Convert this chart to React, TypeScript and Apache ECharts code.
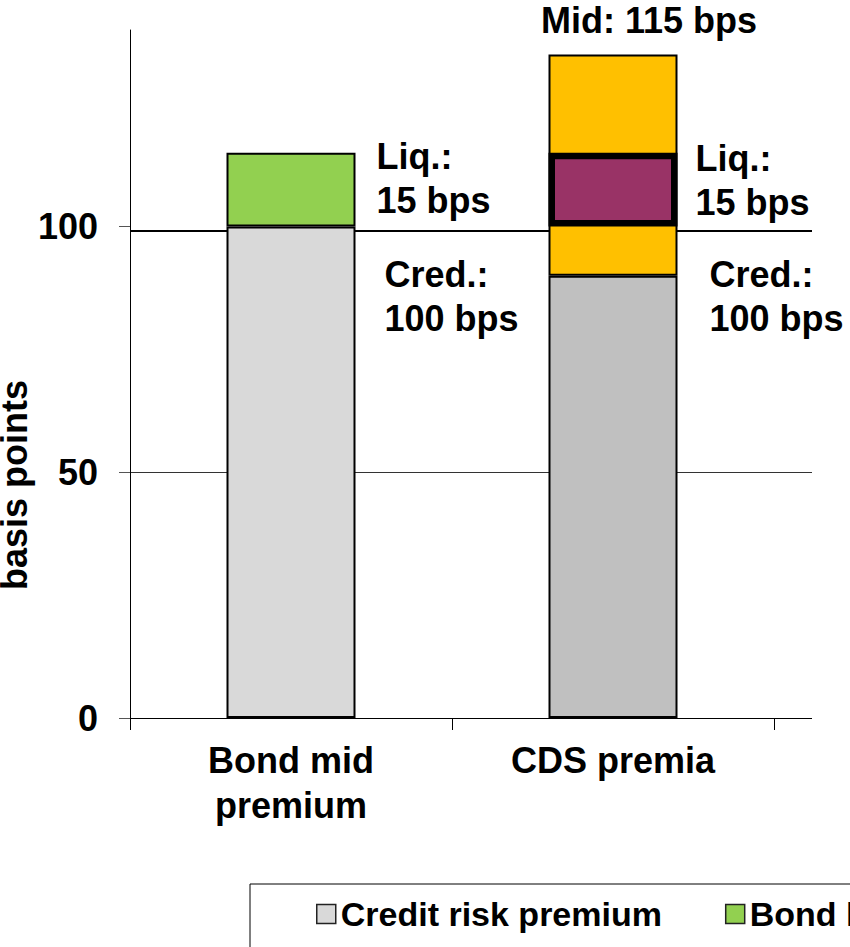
import React, { useEffect, useRef } from 'react';
import * as echarts from 'echarts';

const categories = ['Bond mid\npremium', 'CDS premia', ''];
const creditRisk = [100, 90, '-'];
const bondLiquidity = [15, '-', '-'];
const cdsRange = ['-', 45, '-'];
const cdsLiqBase = ['-', 100, '-'];
const cdsLiquidity = ['-', 15, '-'];
const creditColors = ['#d9d9d9', '#c0c0c0'];
const yTicks = [0, 50, 100];
const referenceLevel = 99.2;
const seriesNames = ['Credit risk premium', 'Bond liquidity premium', 'CDS bid-ask range', 'CDS liquidity premium'];
const credLabel = 'Cred.:\n100 bps';
const liqLabel = 'Liq.:\n15 bps';
const midLabel = 'Mid: 115 bps';

const FONT = 'Liberation Sans, Arial, sans-serif';
const textBase = { fontFamily: FONT, fontWeight: 'bold' as const, fontSize: 36, color: '#000', lineHeight: 44 };

export default function App() {
  const ref = useRef<HTMLDivElement>(null);
  useEffect(() => {
    if (!ref.current) return;
    const chart = echarts.init(ref.current, undefined, { renderer: 'svg' });
    const barCommon = { barWidth: 129, barGap: '-100%', itemStyle: { borderColor: '#000', borderWidth: 2 } };
    const credPositions = [[158, 26], [161, -23]];
    chart.setOption({
      animation: false,
      grid: { left: 130, top: 30, width: 966, bottom: 229, outerBoundsMode: 'none', containLabel: false },
      legend: {
        left: 250, top: 884, width: 1400,
        data: seriesNames,
        selectedMode: false,
        icon: 'rect',
        borderColor: '#000', borderWidth: 1,
        padding: [13, 20, 13, 66],
        itemWidth: 19, itemHeight: 19, itemGap: 63,
        itemStyle: { borderColor: '#222', borderWidth: 1.5 },
        textStyle: { fontFamily: FONT, fontWeight: 'bold', fontSize: 34, color: '#000' },
      },
      xAxis: {
        type: 'category',
        data: categories,
        axisLine: { lineStyle: { color: '#000', width: 1 } },
        axisTick: { show: true, length: 12, interval: 0, lineStyle: { color: '#000' } },
        axisLabel: { ...textBase, lineHeight: 45, margin: 20, interval: 0 },
      },
      yAxis: [
        {
          type: 'value', min: 0, max: 140, interval: 50,
          name: 'basis points', nameLocation: 'middle', nameGap: 96, nameRotate: 90,
          nameMoveOverlap: false,
          nameTextStyle: { ...textBase, lineHeight: 40, padding: [0, 222, 0, 0] },
          axisLine: { show: true, lineStyle: { color: '#000', width: 1 } },
          axisTick: { show: true, length: 11, customValues: yTicks, lineStyle: { color: '#555' } },
          axisLabel: { ...textBase, margin: 32, customValues: yTicks },
          splitLine: { show: true, showMaxLine: false, lineStyle: { color: '#333', width: 1 } },
        },
        {
          type: 'value', min: 0, max: 140, interval: referenceLevel,
          axisLine: { show: false }, axisTick: { show: false }, axisLabel: { show: false },
          splitLine: { show: true, showMinLine: false, showMaxLine: false, lineStyle: { color: '#000', width: 2 } },
        },
      ],
      graphic: [
        { type: 'rect', z: 1, shape: { x: 812, y: 15, width: 60, height: 722 }, style: { fill: '#fff' } },
      ],
      series: [
        {
          ...barCommon,
          type: 'bar', name: seriesNames[0], stack: 'a', z: 2,
          itemStyle: { ...barCommon.itemStyle, color: creditColors[0] },
          data: creditRisk.map((v, i) => (v === '-' ? v : {
            value: v,
            itemStyle: { color: creditColors[i] },
            label: { show: true, formatter: credLabel, position: credPositions[i], align: 'left', verticalAlign: 'top', ...textBase },
          })),
        },
        {
          ...barCommon,
          type: 'bar', name: seriesNames[1], stack: 'a', z: 2,
          itemStyle: { ...barCommon.itemStyle, color: '#92d050' },
          label: { show: true, position: 'right', distance: 21, offset: [0, -11], formatter: liqLabel, align: 'left', ...textBase },
          data: bondLiquidity,
        },
        {
          ...barCommon,
          type: 'bar', name: seriesNames[2], stack: 'a', z: 2,
          itemStyle: { ...barCommon.itemStyle, color: '#ffc000' },
          label: { show: true, position: 'top', distance: 12, offset: [36, 0], formatter: midLabel, ...textBase },
          data: cdsRange,
        },
        {
          ...barCommon,
          type: 'bar', name: 'base', stack: 'b', z: 3,
          itemStyle: { color: 'transparent', borderWidth: 0 },
          data: cdsLiqBase,
        },
        {
          ...barCommon,
          type: 'bar', name: seriesNames[3], stack: 'b', z: 3,
          itemStyle: { color: '#993366', borderColor: '#000', borderWidth: 6.5 },
          label: { show: true, position: 'right', distance: 18, offset: [0, -9], formatter: liqLabel, align: 'left', ...textBase },
          data: cdsLiquidity,
        },
      ],
    });
    return () => chart.dispose();
  }, []);
  return (
    <div style={{ position: 'fixed', left: 0, top: 0, width: 850, height: 947, overflow: 'hidden', background: '#fff' }}>
      <div ref={ref} style={{ width: 850, height: 947 }} />
    </div>
  );
}
